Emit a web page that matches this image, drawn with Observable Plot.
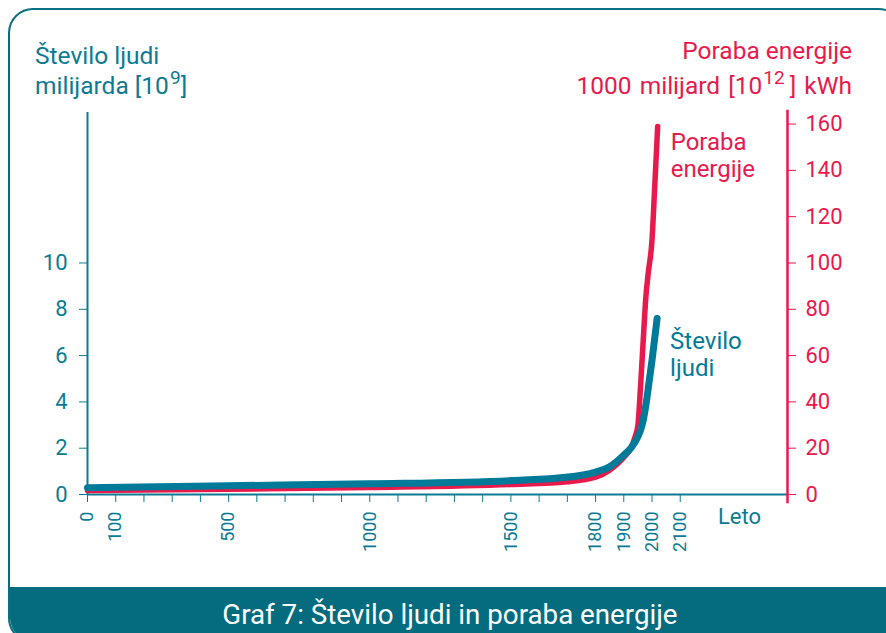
<!DOCTYPE html>
<html>
<head>
<meta charset="utf-8">
<script src="https://cdn.jsdelivr.net/npm/d3@7"></script>
<script src="https://cdn.jsdelivr.net/npm/@observablehq/plot@0.6"></script>
<style>
  html, body { margin: 0; padding: 0; }
  body { width: 886px; height: 633px; overflow: hidden; position: relative; background: #fff; font-family: Roboto, "Noto Sans", sans-serif; }
  #frame { position: absolute; left: 8px; top: 8px; width: 900px; height: 635px; border: 2px solid #0b6f80; border-radius: 25px 30px 25px 25px; overflow: hidden; box-sizing: border-box; }
  #bar { position: absolute; left: 0; right: 0; top: 577px; bottom: 0; background: #046c7e; }
  .t { position: absolute; font-size: 24.5px; line-height: 30px; white-space: nowrap; }
  .teal { color: #0b7b93; }
  .red { color: #e8194b; }
  sup { font-size: 0.78em; vertical-align: 0.5em; line-height: 0; margin-left: 1px; }
  sup.gap { margin-right: 5px; }
  #chart { position: absolute; left: 0; top: 0; }
  #caption { position: absolute; left: 0; width: 900px; top: 601px; text-align: center; color: #fff; font-size: 28px; line-height: 28px; }
  #caption span { display: inline-block; transform: scaleX(0.99); transform-origin: center; white-space: nowrap; }
</style>
</head>
<body>
<div id="frame"><div id="bar"></div></div>
<div class="t teal" style="left:35px; top:41px;">Število ljudi<br>milijarda [10<sup>9</sup>]</div>
<div class="t red" style="right:34px; top:36px; text-align:right;">Poraba energije</div>
<div class="t red" style="right:34px; top:71px; text-align:right; word-spacing:2px;">1000 milijard [10<sup class="gap">12</sup>] kWh</div>
<div id="chart"></div>
<div class="t teal" style="left:718px; top:502px; font-size:22px;">Leto</div>
<div id="caption"><span>Graf 7: Število ljudi in poraba energije</span></div>
<script>
// Population (billions)
const popYears  = [0, 500, 1000, 1500, 1675, 1800, 1850, 1900, 1925, 1950, 1965, 1980, 1990, 2000, 2010, 2018];
const popValues = [0.29, 0.38, 0.46, 0.6, 0.72, 0.97, 1.2, 1.7, 2.0, 2.5, 3.0, 4.0, 4.9, 5.8, 6.8, 7.6];
// Energy consumption (1000 billion kWh)
const enYears  = [0, 500, 1000, 1500, 1700, 1800, 1850, 1900, 1925, 1940, 1950, 1960, 1970, 1978, 1986, 2000, 2010, 2020];
const enValues = [1.7, 2.3, 3.0, 4.3, 5.5, 7.5, 10.5, 16, 20, 25, 30, 48, 69, 85, 95, 110, 134, 159];
// Axis ticks
const xTicks = d3.range(0, 2101, 100);
const xLabels = [0, 100, 500, 1000, 1500, 1800, 1900, 2000, 2100];
const leftTicks = [0, 2, 4, 6, 8, 10];
const rightTicks = [0, 20, 40, 60, 80, 100, 120, 140, 160];

const TEAL = "#0b7b93", RED = "#e8194b", BLUE = "#007a99";
const ratio = 10; // 20 energy units = 2 population units

const pop = popYears.map((y, i) => ({year: y, v: popValues[i]}));
const en = enYears.map((y, i) => ({year: y, v: enValues[i] / ratio}));
const xMax = 2480, yMax = 16.5;

const chart = Plot.plot({
  width: 886, height: 560,
  marginTop: 112, marginBottom: 66, marginLeft: 87, marginRight: 99,
  style: {fontFamily: "Roboto, 'Noto Sans', sans-serif", background: "transparent", overflow: "visible"},
  x: {domain: [0, xMax]},
  y: {domain: [0, yMax]},
  marks: [
    Plot.ruleY([0], {x1: 0, x2: xMax, stroke: TEAL, strokeWidth: 2}),
    Plot.ruleX([0], {y1: 0, y2: yMax, stroke: TEAL, strokeWidth: 2}),
    Plot.axisX({ticks: xTicks, tickFormat: d => xLabels.includes(d) ? String(d) : "", tickRotate: -90, tickSize: 8, tickPadding: 9, fontSize: 18, stroke: TEAL, fill: TEAL, label: null}),
    Plot.axisY({anchor: "left", ticks: leftTicks, tickSize: 8, tickPadding: 12, fontSize: 22, stroke: TEAL, fill: TEAL, label: null}),
    Plot.axisY({anchor: "right", ticks: rightTicks.map(d => d / ratio), tickFormat: d => String(Math.round(d * ratio)), tickSize: 8, tickPadding: 10, fontSize: 22, stroke: RED, fill: RED, label: null}),
    Plot.ruleX([xMax], {y1: -0.4, y2: 16.6, stroke: RED, strokeWidth: 2.5}),
    Plot.line(en, {x: "year", y: "v", stroke: RED, strokeWidth: 5.5, curve: "monotone-x", strokeLinecap: "round", strokeLinejoin: "round"}),
    Plot.line(pop, {x: "year", y: "v", stroke: BLUE, strokeWidth: 7, curve: "monotone-x", strokeLinecap: "round", strokeLinejoin: "round"}),
    Plot.text([en[en.length - 1]], {x: "year", y: "v", text: () => "Poraba\nenergije", dx: 13, dy: 5, textAnchor: "start", lineAnchor: "top", lineHeight: 1.1, fontSize: 24, fill: RED}),
    Plot.text([pop[pop.length - 1]], {x: "year", y: "v", text: () => "Število\nljudi", dx: 13, dy: 11, textAnchor: "start", lineAnchor: "top", lineHeight: 1.14, fontSize: 24, fill: BLUE})
  ]
});
document.getElementById("chart").appendChild(chart);
</script>
</body>
</html>
